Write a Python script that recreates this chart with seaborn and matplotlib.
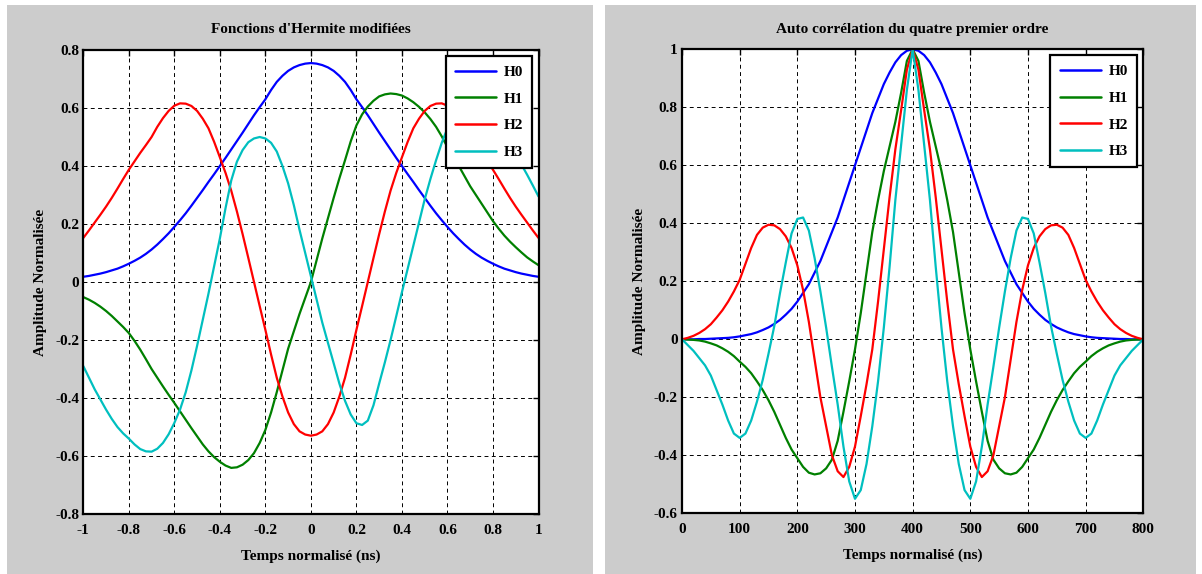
import matplotlib
matplotlib.use("Agg")
import matplotlib.pyplot as plt
import seaborn as sns
import pandas as pd
from matplotlib.patches import Rectangle

# ---------------- data: left panel (modified Hermite functions) ----------------
left_x = [-1.0, -0.975, -0.95, -0.925, -0.9, -0.875, -0.85, -0.825, -0.8, -0.775,
          -0.75, -0.725, -0.7, -0.675, -0.65, -0.625, -0.6, -0.575, -0.55, -0.525,
          -0.5, -0.475, -0.45, -0.425, -0.4, -0.375, -0.35, -0.325, -0.3, -0.275,
          -0.25, -0.225, -0.2, -0.175, -0.15, -0.125, -0.1, -0.075, -0.05, -0.025,
          0.0,
          0.025, 0.05, 0.075, 0.1, 0.125, 0.15, 0.175, 0.2, 0.225, 0.25,
          0.275, 0.3, 0.325, 0.35, 0.375, 0.4, 0.425, 0.45, 0.475, 0.5,
          0.525, 0.55, 0.575, 0.6, 0.625, 0.65, 0.675, 0.7, 0.725, 0.75,
          0.775, 0.8, 0.825, 0.85, 0.875, 0.9, 0.925, 0.95, 0.975, 1.0]
left_h0 = [0.018, 0.021, 0.025, 0.029, 0.034, 0.04, 0.046, 0.054, 0.063, 0.073,
           0.084, 0.097, 0.112, 0.129, 0.148, 0.168, 0.19, 0.213, 0.237, 0.263,
           0.29, 0.317, 0.345, 0.372, 0.40, 0.428, 0.457, 0.486, 0.515, 0.545,
           0.575, 0.603, 0.63, 0.662, 0.69, 0.711, 0.728, 0.74, 0.748, 0.753,
           0.755,
           0.753, 0.748, 0.74, 0.728, 0.711, 0.69, 0.662, 0.63, 0.603, 0.575,
           0.545, 0.515, 0.486, 0.457, 0.428, 0.40, 0.372, 0.345, 0.317, 0.29,
           0.263, 0.237, 0.213, 0.19, 0.168, 0.148, 0.129, 0.112, 0.097, 0.084,
           0.073, 0.063, 0.054, 0.046, 0.04, 0.034, 0.029, 0.025, 0.021, 0.018]
left_h1 = [-0.052, -0.061, -0.072, -0.085, -0.10, -0.117, -0.136, -0.155, -0.176, -0.203,
           -0.233, -0.266, -0.30, -0.33, -0.36, -0.389, -0.417, -0.446, -0.475, -0.504,
           -0.532, -0.56, -0.584, -0.604, -0.62, -0.633, -0.641, -0.639, -0.63, -0.614,
           -0.59, -0.555, -0.51, -0.45, -0.38, -0.305, -0.23, -0.17, -0.11, -0.055,
           0.0,
           0.075, 0.15, 0.22, 0.29, 0.357, 0.42, 0.485, 0.54, 0.578, 0.605,
           0.625, 0.64, 0.647, 0.65, 0.648, 0.643, 0.633, 0.62, 0.604, 0.585,
           0.562, 0.535, 0.502, 0.465, 0.433, 0.40, 0.365, 0.33, 0.30, 0.27,
           0.24, 0.21, 0.184, 0.16, 0.139, 0.12, 0.102, 0.085, 0.071, 0.058]
left_h2 = [0.152, 0.178, 0.205, 0.232, 0.26, 0.29, 0.322, 0.355, 0.387, 0.416,
           0.445, 0.472, 0.50, 0.535, 0.565, 0.59, 0.608, 0.616, 0.615, 0.607,
           0.59, 0.563, 0.53, 0.483, 0.43, 0.376, 0.315, 0.243, 0.165, 0.083,
           0.0, -0.083, -0.165, -0.25, -0.33, -0.395, -0.45, -0.49, -0.515, -0.526,
           -0.53,
           -0.526, -0.515, -0.49, -0.45, -0.395, -0.33, -0.25, -0.165, -0.083, 0.0,
           0.083, 0.165, 0.243, 0.315, 0.376, 0.43, 0.483, 0.53, 0.563, 0.59,
           0.607, 0.615, 0.616, 0.608, 0.59, 0.565, 0.535, 0.50, 0.472, 0.445,
           0.416, 0.387, 0.355, 0.322, 0.29, 0.26, 0.232, 0.205, 0.178, 0.152]
left_h3 = [-0.29, -0.33, -0.37, -0.405, -0.44, -0.472, -0.50, -0.522, -0.54, -0.56,
           -0.576, -0.584, -0.585, -0.575, -0.555, -0.525, -0.486, -0.44, -0.38, -0.305,
           -0.22, -0.13, -0.04, 0.055, 0.15, 0.255, 0.35, 0.415, 0.455, 0.482,
           0.495, 0.50, 0.495, 0.48, 0.45, 0.40, 0.34, 0.265, 0.18, 0.10,
           0.02,
           -0.06, -0.14, -0.21, -0.28, -0.35, -0.41, -0.457, -0.487, -0.493, -0.478,
           -0.425, -0.35, -0.277, -0.2, -0.118, -0.035, 0.045, 0.125, 0.205, 0.285,
           0.355, 0.42, 0.48, 0.53, 0.558, 0.575, 0.586, 0.59, 0.587, 0.575,
           0.559, 0.54, 0.52, 0.50, 0.47, 0.44, 0.405, 0.37, 0.333, 0.295]

# ---------------- data: right panel (autocorrelation) ----------------
right_x = [0, 10, 20, 30, 40, 50, 60, 70, 80, 90, 100, 110, 120, 130, 140, 150, 160, 170, 180, 190,
           200, 210, 220, 230, 240, 250, 260, 270, 280, 290, 300, 310, 320, 330, 340, 350, 360, 370, 380, 390,
           400,
           410, 420, 430, 440, 450, 460, 470, 480, 490, 500, 510, 520, 530, 540, 550, 560, 570, 580, 590,
           600, 610, 620, 630, 640, 650, 660, 670, 680, 690, 700, 710, 720, 730, 740, 750, 760, 770, 780, 790, 800]
right_h0 = [0.0, 0.0, 0.0, 0.001, 0.001, 0.002, 0.003, 0.004, 0.005, 0.007,
            0.010, 0.014, 0.018, 0.024, 0.032, 0.041, 0.053, 0.067, 0.085, 0.105,
            0.13, 0.16, 0.19, 0.23, 0.27, 0.32, 0.37, 0.42, 0.48, 0.54,
            0.60, 0.66, 0.72, 0.78, 0.83, 0.88, 0.92, 0.955, 0.98, 0.995,
            1.0,
            0.995, 0.98, 0.955, 0.92, 0.88, 0.83, 0.78, 0.72, 0.66, 0.60,
            0.54, 0.48, 0.42, 0.37, 0.32, 0.27, 0.23, 0.19, 0.16, 0.13,
            0.105, 0.085, 0.067, 0.053, 0.041, 0.032, 0.024, 0.018, 0.014, 0.010,
            0.007, 0.005, 0.004, 0.003, 0.002, 0.001, 0.001, 0.0, 0.0, 0.0]
right_h1 = [0.0, -0.001, -0.002, -0.004, -0.008, -0.014, -0.021, -0.031, -0.043, -0.058,
            -0.077, -0.095, -0.117, -0.145, -0.175, -0.21, -0.25, -0.295, -0.34, -0.38,
            -0.41, -0.44, -0.46, -0.466, -0.462, -0.445, -0.415, -0.35, -0.25, -0.145,
            -0.035, 0.09, 0.23, 0.37, 0.48, 0.58, 0.665, 0.75, 0.85, 0.96,
            1.0,
            0.96, 0.85, 0.75, 0.665, 0.58, 0.48, 0.37, 0.23, 0.09, -0.035,
            -0.145, -0.25, -0.35, -0.415, -0.445, -0.462, -0.466, -0.46, -0.44, -0.41,
            -0.38, -0.34, -0.295, -0.25, -0.21, -0.175, -0.145, -0.117, -0.095, -0.077,
            -0.058, -0.043, -0.031, -0.021, -0.014, -0.008, -0.004, -0.002, -0.001, 0.0]
right_h2 = [0.0, 0.005, 0.012, 0.022, 0.035, 0.052, 0.075, 0.10, 0.13, 0.165,
            0.205, 0.26, 0.315, 0.36, 0.385, 0.395, 0.393, 0.38, 0.355, 0.315,
            0.255, 0.17, 0.06, -0.07, -0.20, -0.30, -0.40, -0.455, -0.475, -0.44,
            -0.37, -0.265, -0.155, -0.035, 0.13, 0.31, 0.49, 0.655, 0.79, 0.93,
            1.0,
            0.93, 0.79, 0.655, 0.49, 0.31, 0.13, -0.035, -0.155, -0.265, -0.37,
            -0.44, -0.475, -0.455, -0.40, -0.30, -0.20, -0.07, 0.06, 0.17, 0.255,
            0.315, 0.355, 0.38, 0.393, 0.395, 0.385, 0.36, 0.315, 0.26, 0.205,
            0.165, 0.13, 0.10, 0.075, 0.052, 0.035, 0.022, 0.012, 0.005, 0.0]
right_h3 = [0.0, -0.02, -0.04, -0.065, -0.09, -0.125, -0.175, -0.225, -0.28, -0.325,
            -0.34, -0.325, -0.28, -0.215, -0.14, -0.05, 0.045, 0.16, 0.265, 0.365,
            0.415, 0.42, 0.375, 0.28, 0.165, 0.04, -0.095, -0.225, -0.37, -0.49,
            -0.55, -0.52, -0.43, -0.30, -0.145, 0.04, 0.25, 0.48, 0.67, 0.86,
            1.0,
            0.86, 0.67, 0.48, 0.25, 0.04, -0.145, -0.30, -0.43, -0.52, -0.55,
            -0.49, -0.37, -0.225, -0.095, 0.04, 0.165, 0.28, 0.375, 0.42, 0.415,
            0.365, 0.265, 0.16, 0.045, -0.05, -0.14, -0.215, -0.28, -0.325, -0.34,
            -0.325, -0.28, -0.225, -0.175, -0.125, -0.09, -0.065, -0.04, -0.02, 0.0]

series_names = ["H0", "H1", "H2", "H3"]
series_colors = ["#0000ff", "#008000", "#ff0000", "#00bfbf"]

left_xticks = [-1, -0.8, -0.6, -0.4, -0.2, 0, 0.2, 0.4, 0.6, 0.8, 1]
left_xticklabels = ["-1", "-0.8", "-0.6", "-0.4", "-0.2", "0", "0.2", "0.4", "0.6", "0.8", "1"]
left_yticks = [-0.8, -0.6, -0.4, -0.2, 0, 0.2, 0.4, 0.6, 0.8]
left_yticklabels = ["-0.8", "-0.6", "-0.4", "-0.2", "0", "0.2", "0.4", "0.6", "0.8"]
right_xticks = [0, 100, 200, 300, 400, 500, 600, 700, 800]
right_xticklabels = ["0", "100", "200", "300", "400", "500", "600", "700", "800"]
right_yticks = [-0.6, -0.4, -0.2, 0, 0.2, 0.4, 0.6, 0.8, 1]
right_yticklabels = ["-0.6", "-0.4", "-0.2", "0", "0.2", "0.4", "0.6", "0.8", "1"]

titles = ["Fonctions d'Hermite modifiées", "Auto corrélation du quatre premier ordre"]
xlabel = "Temps normalisé (ns)"
ylabel = "Amplitude Normalisée"

# ---------------- style ----------------
sns.set_theme(style="white")
plt.rcParams['font.family'] = ['Liberation Serif', 'DejaVu Serif']
plt.rcParams['font.weight'] = 'bold'
plt.rcParams['axes.unicode_minus'] = False
plt.rcParams['text.color'] = 'black'
plt.rcParams['axes.labelcolor'] = 'black'
plt.rcParams['axes.titlecolor'] = 'black'
plt.rcParams['xtick.color'] = 'black'
plt.rcParams['ytick.color'] = 'black'
plt.rcParams['legend.labelcolor'] = 'black'

W, H = 1202, 574
fig = plt.figure(figsize=(W / 100, H / 100), dpi=100, facecolor='white')
for x0, x1 in [(7, 593), (605, 1196)]:
    fig.patches.append(Rectangle((x0 / W, 0), (x1 - x0) / W, 569 / H,
                                 transform=fig.transFigure, facecolor='#cccccc',
                                 edgecolor='none', zorder=-10))

ax1 = fig.add_axes([83.3 / W, (H - 514) / H, 455.2 / W, 464 / H])
ax2 = fig.add_axes([682 / W, (H - 513.3) / H, 461.3 / W, 464 / H])

panels = [
    (ax1, left_x, [left_h0, left_h1, left_h2, left_h3], (-1, 1), (-0.8, 0.8),
     left_xticks, left_xticklabels, left_yticks, left_yticklabels, titles[0]),
    (ax2, right_x, [right_h0, right_h1, right_h2, right_h3], (0, 800), (-0.6, 1.0),
     right_xticks, right_xticklabels, right_yticks, right_yticklabels, titles[1]),
]

for ax, xs, ys, xlim, ylim, xt, xtl, yt, ytl, title in panels:
    ax.set_facecolor('white')
    for name, col, y in zip(series_names, series_colors, ys):
        df = pd.DataFrame({"t": xs, "v": y})
        sns.lineplot(data=df, x="t", y="v", ax=ax, color=col, linewidth=1.6,
                     label=name, sort=False, estimator=None)
    ax.set_xlim(*xlim)
    ax.set_ylim(*ylim)
    ax.set_xticks(xt, xtl)
    ax.set_yticks(yt, ytl)
    ax.grid(True, color='black', linestyle=(0, (4, 3.5)), linewidth=0.7)
    ax.set_axisbelow(True)
    for s in ax.spines.values():
        s.set_visible(True)
        s.set_color('black')
        s.set_linewidth(1.6)
    ax.tick_params(direction='in', top=True, right=True, length=4, width=1.0,
                   colors='black', labelsize=11, pad=3)
    ax.tick_params(axis='x', pad=7)
    for lab in ax.get_xticklabels() + ax.get_yticklabels():
        lab.set_fontweight('bold')
    ax.set_title(title, fontsize=11, fontweight='bold', pad=12, color='black')
    ax.set_xlabel(xlabel, fontsize=11, fontweight='bold', labelpad=9, color='black')
    ax.set_ylabel(ylabel, fontsize=11, fontweight='bold', labelpad=6, color='black')
    leg = ax.legend(loc='upper right', fontsize=11, frameon=True, fancybox=False,
                    framealpha=1, edgecolor='black', handlelength=2.7,
                    labelspacing=0.85, borderaxespad=0.4, borderpad=0.6,
                    handletextpad=0.5)
    leg.get_frame().set_linewidth(1.6)
    for t in leg.get_texts():
        t.set_fontweight('bold')
        t.set_color('black')
    for ln in leg.get_lines():
        ln.set_linewidth(1.8)

fig.savefig("out.png", dpi=100, facecolor=fig.get_facecolor())
